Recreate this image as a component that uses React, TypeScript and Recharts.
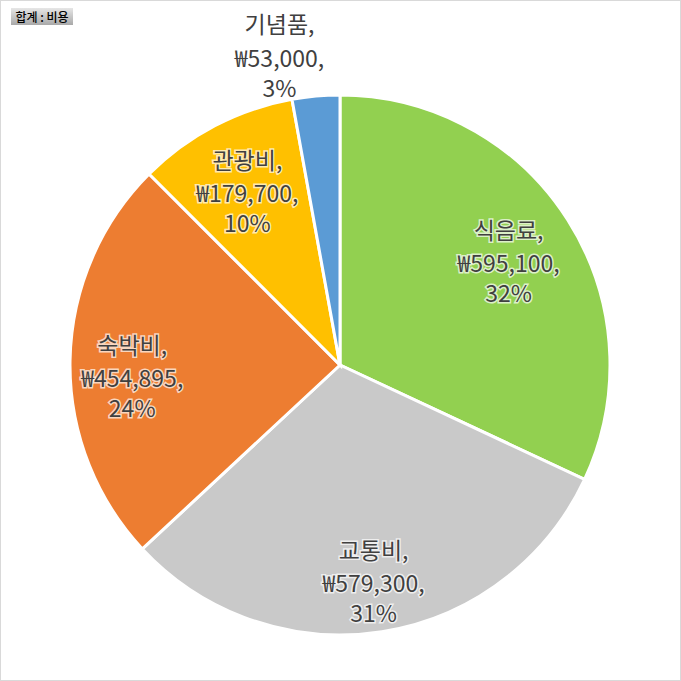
import { PieChart, Pie, Cell } from 'recharts';

const categories = ['식음료', '교통비', '숙박비', '관광비', '기념품'];
const costs = [595100, 579300, 454895, 179700, 53000];

const COLORS = ['#92D050', '#C9C9C9', '#ED7D31', '#FFC000', '#5B9BD5'];

const RADIAN = Math.PI / 180;
const FONT = '"Noto Sans CJK KR", "Noto Sans", sans-serif';
const LINE_DY = [0, 33, 30];
// Excel's best-fit nudges the horizontal 숙박비 label a little
const LABEL_NUDGE: Record<number, [number, number]> = { 2: [-8, 12] };

const chartData = categories.map((name, i) => ({ name, value: costs[i] }));

const won = (v: number) => '₩' + v.toLocaleString('en-US');

function renderLabel(props: any) {
  const { cx, cy, midAngle, outerRadius, percent, index, name, value } = props;
  const pct = `${Math.round(percent * 100)}%`;
  const lines = [`${name},`, `${won(value)},`, pct];

  // small slices go outside, the rest sit inside
  if (percent < 0.05) {
    const ax = cx + (outerRadius + 15) * Math.cos(-midAngle * RADIAN);
    const ay = cy + (outerRadius + 15) * Math.sin(-midAngle * RADIAN);
    return (
      <text x={ax - 35} y={ay - 48} textAnchor="middle" fill="#404040" fontSize={23} fontFamily={FONT}>
        {lines.map((l, i) => (
          <tspan key={i} x={ax - 35} dy={i === 0 ? 0 : i === 1 ? 34 : 30}>
            {l}
          </tspan>
        ))}
      </text>
    );
  }

  const [nx, ny] = LABEL_NUDGE[index] ?? [0, 0];
  const r = outerRadius * (index === 1 ? 0.8 : 0.74);
  const x = cx + r * Math.cos(-midAngle * RADIAN) + nx;
  const y = cy + r * Math.sin(-midAngle * RADIAN) - 19 + ny;
  return (
    <text
      x={x}
      y={y}
      textAnchor="middle"
      fill="#404040"
      fontSize={23}
      fontFamily={FONT}
      stroke="#ffffff"
      strokeWidth={3}
      strokeOpacity={0.7}
      paintOrder="stroke"
    >
      {lines.map((l, i) => (
        <tspan key={i} x={x} dy={LINE_DY[i]}>
          {l}
        </tspan>
      ))}
    </text>
  );
}

export default function App() {
  return (
    <div
      style={{
        position: 'absolute',
        left: 0,
        top: 0,
        width: 679,
        height: 679,
        border: '1px solid #d9d9d9',
        background: '#fff',
        overflow: 'hidden',
      }}
    >
      <div
        style={{
          position: 'absolute',
          left: 10,
          top: 7,
          width: 62,
          height: 17,
          background: 'linear-gradient(#e6e6e6, #a9a9a9)',
          fontFamily: FONT,
          fontSize: 12,
          fontWeight: 500,
          lineHeight: '17px',
          textAlign: 'center',
          color: '#000',
        }}
      >
        합계 : 비용
      </div>
      <PieChart width={679} height={679} margin={{ top: 0, right: 0, bottom: 0, left: 0 }}>
        <Pie
          data={chartData}
          dataKey="value"
          nameKey="name"
          cx={339}
          cy={364}
          outerRadius={270}
          startAngle={90}
          endAngle={-270}
          stroke="#ffffff"
          strokeWidth={3}
          label={renderLabel}
          labelLine={false}
          isAnimationActive={false}
        >
          {chartData.map((entry, index) => (
            <Cell key={`cell-${index}`} fill={COLORS[index % COLORS.length]} />
          ))}
        </Pie>
      </PieChart>
    </div>
  );
}
